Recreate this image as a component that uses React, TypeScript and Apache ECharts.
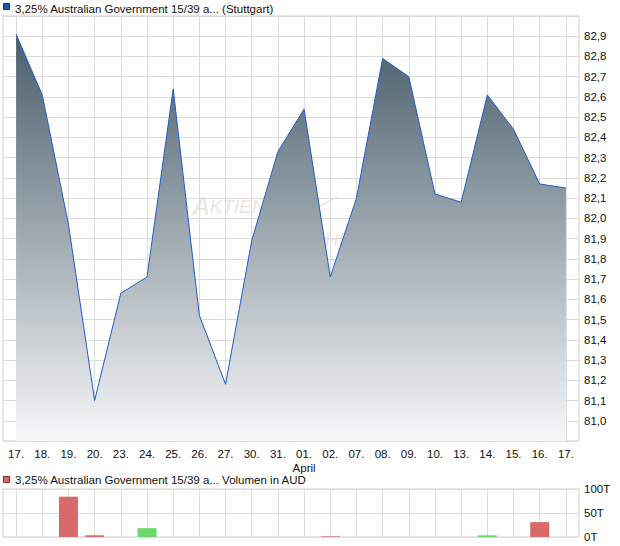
import React, { useEffect, useRef } from "react";
import * as echarts from "echarts";

const titleMain = "3,25% Australian Government 15/39 a... (Stuttgart)";
const titleVolume = "3,25% Australian Government 15/39 a... Volumen in AUD";
const categories = ["17.", "18.", "19.", "20.", "23.", "24.", "25.", "26.", "27.", "30.", "31.", "01.", "02.", "07.", "08.", "09.", "10.", "13.", "14.", "15.", "16.", "17."];
const monthMarks: Record<number, string> = { 11: "April" };
const prices = [82.91, 82.61, 81.97, 81.1, 81.63, 81.71, 82.64, 81.52, 81.18, 81.89, 82.33, 82.54, 81.71, 82.1, 82.79, 82.7, 82.12, 82.08, 82.61, 82.44, 82.17, 82.15];
const volumes = [0, 0, 84, 3.6, 0, 18.4, 0, 0, 0, 0, 0, 0, 1.4, 0, 0, 0, 0, 0, 3.5, 0, 31, 0];

const FONT = "'Liberation Sans', Arial, sans-serif";
const GRID_COLOR = "#dcdcdc";

export default function App() {
  const ref = useRef<HTMLDivElement>(null);
  useEffect(() => {
    if (!ref.current) return;
    const chart = echarts.init(ref.current, null, { renderer: "svg" });
    const barData = volumes.map((v, i) => ({
      value: v,
      itemStyle: { color: i > 0 && prices[i] >= prices[i - 1] ? "#6cd86a" : "#d96a6a" },
    }));
    const vLines = categories.map((_, i) => ({ xAxis: i }));
    const gridLineSeries = (axisIndex: number) => ({
      type: "line",
      xAxisIndex: axisIndex,
      yAxisIndex: axisIndex,
      data: [],
      z: 1,
      silent: true,
      markLine: {
        z: 1,
        silent: true,
        symbol: ["none", "none"],
        label: { show: false },
        lineStyle: { color: GRID_COLOR, width: 1, type: "solid" },
        emphasis: { disabled: true },
        data: vLines,
      },
    });
    chart.setOption({
      animation: false,
      textStyle: { fontFamily: FONT },
      grid: [
        { left: 3, right: 41, top: 16, bottom: 105, show: true, borderColor: "#cfcfcf", borderWidth: 1 },
        { left: 3, right: 41, top: 489, bottom: 9, show: true, borderColor: "#cfcfcf", borderWidth: 1 },
      ],
      graphic: [
        { type: "rect", shape: { x: 3.5, y: 3.5, width: 6, height: 6 }, style: { fill: "#1f56b8", stroke: "#12316b", lineWidth: 1 } },
        { type: "text", x: 15, y: 9, style: { text: titleMain, font: `11.5px ${FONT}`, fill: "#111", verticalAlign: "middle" } },
        { type: "rect", shape: { x: 3.5, y: 476.5, width: 6, height: 6 }, style: { fill: "#d96a6a", stroke: "#7a2a2a", lineWidth: 1 } },
        { type: "text", x: 15, y: 480, style: { text: titleVolume, font: `11.5px ${FONT}`, fill: "#111", verticalAlign: "middle" } },
        {
          type: "group",
          z: 0,
          children: [
            {
              type: "text",
              x: 193,
              y: 206,
              style: {
                text: "{a|A}{b|KTIEN}",
                verticalAlign: "middle",
                rich: {
                  a: { font: `italic 25px ${FONT}`, fill: "#ebe5df" },
                  b: { font: `italic 19px ${FONT}`, fill: "#ebe5df" },
                },
              },
            },
            { type: "line", shape: { x1: 320, y1: 206, x2: 337, y2: 197 }, style: { stroke: "#ebe5df", lineWidth: 1.5 } },
            { type: "text", x: 311, y: 239, style: { text: "CHECK", font: `italic 19px ${FONT}`, fill: "#ebe5df", verticalAlign: "middle" } },
          ],
        },
      ],
      xAxis: [
        {
          type: "category",
          gridIndex: 0,
          data: categories,
          boundaryGap: true,
          axisLine: { show: false },
          axisTick: { show: false },
          splitLine: { show: false },
          axisLabel: {
            interval: 0,
            margin: 6,
            fontSize: 11.5,
            color: "#111",
            lineHeight: 14,
            formatter: (v: string, i: number) => (monthMarks[i] ? `${v}\n${monthMarks[i]}` : v),
          },
        },
        {
          type: "category",
          gridIndex: 1,
          data: categories,
          boundaryGap: true,
          axisLine: { show: false },
          axisTick: { show: false },
          axisLabel: { show: false },
          splitLine: { show: false },
        },
      ],
      yAxis: [
        {
          type: "value",
          gridIndex: 0,
          position: "right",
          min: 80.9,
          max: 83.0,
          interval: 0.1,
          axisLine: { show: false },
          axisTick: { show: false },
          splitLine: { show: true, lineStyle: { color: GRID_COLOR, width: 1 } },
          axisLabel: {
            margin: 5,
            fontSize: 11.5,
            color: "#111",
            formatter: (v: number) => (v < 80.95 || v > 82.95 ? "" : v.toFixed(1).replace(".", ",")),
          },
        },
        {
          type: "value",
          gridIndex: 1,
          position: "right",
          min: 0,
          max: 100,
          interval: 50,
          axisLine: { show: false },
          axisTick: { show: false },
          splitLine: { show: true, lineStyle: { color: GRID_COLOR, width: 1 } },
          axisLabel: { margin: 5, fontSize: 11.5, color: "#111", formatter: (v: number) => `${v}T` },
        },
      ],
      series: [
        gridLineSeries(0),
        gridLineSeries(1),
        {
          type: "line",
          xAxisIndex: 0,
          yAxisIndex: 0,
          data: prices,
          symbol: "none",
          z: 3,
          lineStyle: { color: "#1f5cc8", width: 1 },
          areaStyle: {
            opacity: 1,
            color: new echarts.graphic.LinearGradient(0, 0, 0, 1, [
              { offset: 0, color: "#4a5e6c" },
              { offset: 1, color: "#f6f7f8" },
            ]),
          },
        },
        {
          type: "bar",
          xAxisIndex: 1,
          yAxisIndex: 1,
          z: 3,
          data: barData,
          barWidth: 19,
        },
      ],
    });
    return () => chart.dispose();
  }, []);
  return <div ref={ref} style={{ position: "absolute", left: 0, top: 0, width: 620, height: 546 }} />;
}
